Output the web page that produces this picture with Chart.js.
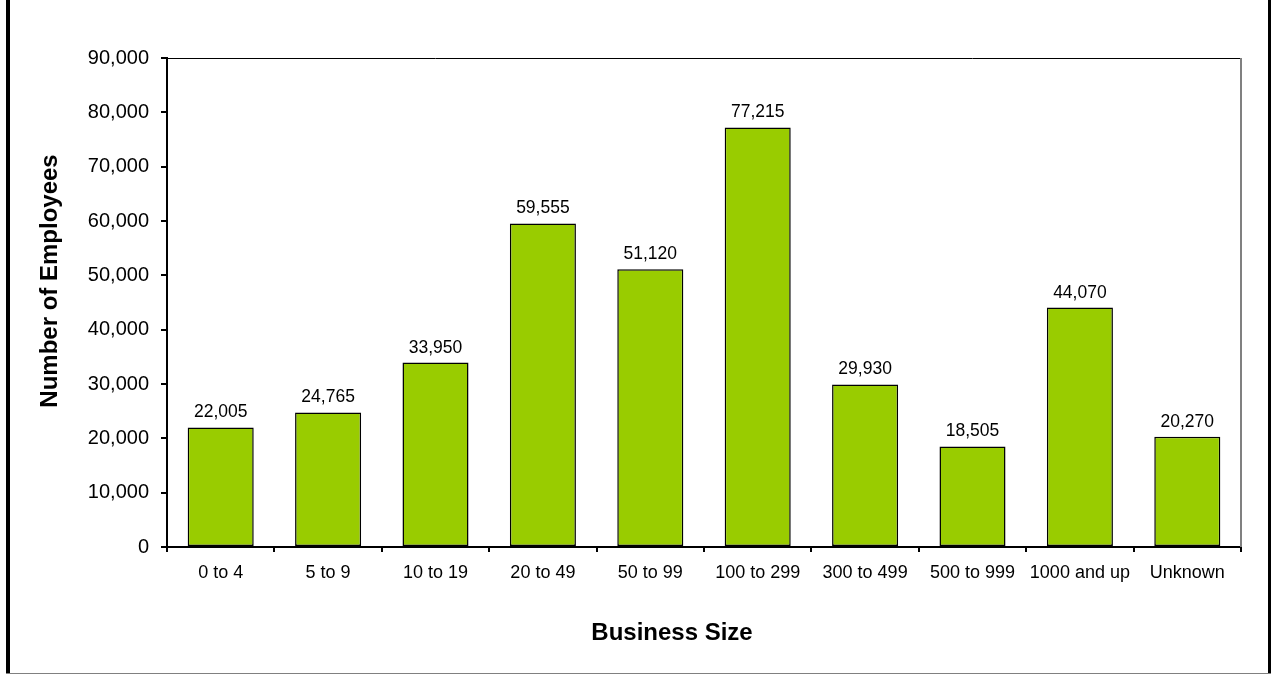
<!DOCTYPE html>
<html>
<head>
<meta charset="utf-8">
<script src="https://cdn.jsdelivr.net/npm/chart.js@4/dist/chart.umd.min.js"></script>
<style>
  html, body { margin: 0; padding: 0; background: #ffffff; }
  #wrap { position: relative; width: 1272px; height: 675px; }
  canvas { display: block; }
</style>
</head>
<body>
<div id="wrap"><canvas id="chart" width="1272" height="675"></canvas></div>
<script>
// Employees by business size
const categories = ['0 to 4', '5 to 9', '10 to 19', '20 to 49', '50 to 99', '100 to 299', '300 to 499', '500 to 999', '1000 and up', 'Unknown'];
const employees = [22005, 24765, 33950, 59555, 51120, 77215, 29930, 18505, 44070, 20270];
const yTickMax = 90000;
const yTickStep = 10000;
const xTitle = 'Business Size';
const yTitle = 'Number of Employees';

const FONT = '"Liberation Sans", Arial, Helvetica, sans-serif';
const fmt = v => v.toLocaleString('en-US');

// Outer page frame, plot box top/right edges and the axis titles
const framePlugin = {
  id: 'frame',
  beforeDatasetsDraw(chart) {
    const { ctx, chartArea: a } = chart;
    ctx.save();
    ctx.lineWidth = 1;
    ctx.strokeStyle = '#000000';
    ctx.beginPath();
    ctx.moveTo(a.left, a.top + 0.5);
    ctx.lineTo(a.right, a.top + 0.5);
    ctx.stroke();
    ctx.strokeStyle = '#808080';
    ctx.lineWidth = 2;
    ctx.beginPath();
    ctx.moveTo(a.right, a.top);
    ctx.lineTo(a.right, a.bottom);
    ctx.stroke();
    ctx.restore();
  },
  afterDraw(chart) {
    const { ctx, width, height } = chart;
    ctx.save();
    ctx.fillStyle = '#000000';
    ctx.fillRect(6, 0, 4, height - 2);
    ctx.fillRect(width - 4, 0, 3, height - 2);
    ctx.fillStyle = '#808080';
    ctx.fillRect(6, height - 2, width - 7, 1);

    // axis titles
    ctx.fillStyle = '#000000';
    ctx.font = 'bold 24px ' + FONT;
    ctx.textAlign = 'center';
    ctx.textBaseline = 'middle';
    ctx.fillText(xTitle, 672, 633);
    ctx.translate(50, 281);
    ctx.rotate(-Math.PI / 2);
    ctx.fillText(yTitle, 0, 0);
    ctx.restore();
  }
};

// Value labels above each bar
const valueLabels = {
  id: 'valueLabels',
  afterDatasetsDraw(chart) {
    const { ctx } = chart;
    const meta = chart.getDatasetMeta(0);
    ctx.save();
    ctx.font = '17.5px ' + FONT;
    ctx.fillStyle = '#000000';
    ctx.textAlign = 'center';
    ctx.textBaseline = 'alphabetic';
    meta.data.forEach((bar, i) => {
      ctx.fillText(fmt(chart.data.datasets[0].data[i]), bar.x, bar.y - 10);
    });
    ctx.restore();
  }
};

new Chart(document.getElementById('chart'), {
  type: 'bar',
  data: {
    labels: categories,
    datasets: [{
      data: employees,
      backgroundColor: '#99CC00',
      borderColor: '#000000',
      borderWidth: 1.5,
      borderSkipped: false,
      categoryPercentage: 1.0,
      barPercentage: 0.615
    }]
  },
  options: {
    responsive: false,
    animation: false,
    devicePixelRatio: 1,
    layout: { padding: { left: 0, top: 58, right: 31, bottom: 0 } },
    plugins: {
      legend: { display: false },
      tooltip: { enabled: false },
      title: { display: false }
    },
    scales: {
      x: {
        afterFit(scale) { scale.height = 128; },
        grid: {
          display: true,
          drawOnChartArea: false,
          drawTicks: true,
          tickLength: 5,
          color: '#000000',
          lineWidth: 2
        },
        border: { display: true, color: '#000000', width: 2 },
        ticks: {
          color: '#000000',
          padding: 10,
          maxRotation: 0,
          autoSkip: false,
          font: { family: FONT, size: 18 }
        },
        title: { display: false }
      },
      y: {
        min: 0,
        max: yTickMax,
        afterFit(scale) { scale.width = 167; },
        grid: {
          display: true,
          drawOnChartArea: false,
          drawTicks: true,
          tickLength: 6,
          color: '#000000',
          lineWidth: 2
        },
        border: { display: true, color: '#000000', width: 2 },
        ticks: {
          stepSize: yTickStep,
          color: '#000000',
          padding: 12,
          callback: v => fmt(v),
          font: { family: FONT, size: 20 }
        },
        title: { display: false }
      }
    }
  },
  plugins: [framePlugin, valueLabels]
});
</script>
</body>
</html>
